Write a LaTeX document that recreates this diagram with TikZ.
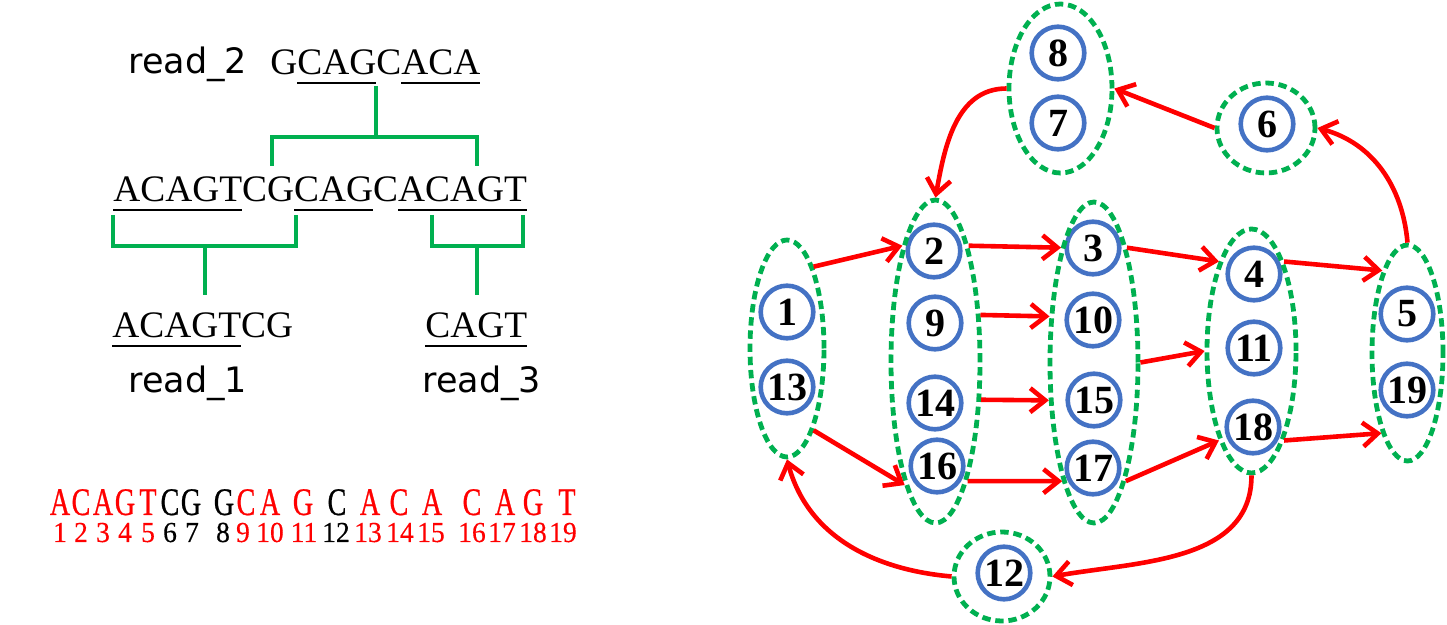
\documentclass[tikz,border=0pt]{standalone}
\usepackage{fontspec}
\setmainfont{Liberation Serif}
\newfontfamily\readfont{DejaVu Sans}
\newfontfamily\seqfont[FakeStretch=0.72,FakeBold=0.6]{Liberation Serif}
\newfontfamily\idxfont[FakeStretch=0.95,FakeBold=0.4]{Liberation Serif}
\usetikzlibrary{arrows.meta,shapes.geometric}

\definecolor{kgreen}{HTML}{00B050}
\definecolor{kblue}{HTML}{4472C4}
\definecolor{kred}{HTML}{FF0000}

\newcommand\ulseq[1]{\setbox0\hbox{#1}\rlap{\rule[-4.6pt]{\wd0}{1.2pt}}#1}

\begin{document}
\begin{tikzpicture}[x=0.5pt,y=-0.5pt,
    kmer/.style={circle, draw=kblue, line width=2.3pt, minimum size=26.3pt, inner sep=0pt, font=\fontsize{20}{20}\selectfont\bfseries},
    cluster/.style={ellipse, draw=kgreen, line width=2.4pt, dash pattern=on 4.2pt off 2.4pt, inner sep=0pt},
    link/.style={draw=kred, line width=2.3pt, -{Straight Barb[length=7.5pt,width=12pt]}},
    bracket/.style={draw=kgreen, line width=2pt},
    seqtxt/.style={font=\fontsize{18.7}{20}\selectfont, inner sep=0pt, anchor=base west},
    readlbl/.style={font=\readfont\fontsize{17.5}{20}\selectfont, inner sep=0pt, anchor=base west},
    letter/.style={font=\seqfont\fontsize{19.5}{20}\selectfont, inner sep=0pt, anchor=base},
    idx/.style={font=\idxfont\fontsize{14.5}{15}\selectfont, inner sep=0pt, anchor=base}]

    \useasboundingbox (0,0) rectangle (1447,625);

    \node[readlbl] (r2) at (128,74) {read\_2};
    \node[seqtxt] (s2) at (270,75) {G\ulseq{CAG}C\ulseq{ACA}};
    \node[seqtxt] (s0) at (113,202) {\ulseq{ACAGT}CG\ulseq{CAG}C\ulseq{ACAGT}};
    \node[seqtxt] (s1) at (112,338) {\ulseq{ACAGT}CG};
    \node[seqtxt] (s3) at (425,338) {\ulseq{CAGT}};
    \node[readlbl] (r1) at (128,393) {read\_1};
    \node[readlbl] (r3) at (422,393) {read\_3};

    \draw[bracket] (376,86) -- (376,137) (272,166) -- (272,137) -- (477,137) -- (477,166);
    \draw[bracket] (113,215) -- (113,246) -- (296,246) -- (296,215) (205,246) -- (205,295);
    \draw[bracket] (432,215) -- (432,246) -- (523,246) -- (523,215) (477,246) -- (477,295);

    \foreach \ch/\xl/\xd/\c [count=\i] in {A/60/60/kred, C/81/81/kred, A/103/103/kred, G/125/125/kred, T/148/148/kred,
        C/170/170/black, G/191/192/black, G/224/223/black, C/246/243/kred, A/270/270/kred, G/303/304/kred,
        C/337/336/black, A/370/368/kred, C/399/400/kred, A/432/431/kred, C/472/472/kred, A/505/502/kred,
        G/533/533/kred, T/567/563/kred}
    {
        \node[letter, text=\c] (l\i) at (\xl,515) {\ch};
        \node[idx, text=\c] (d\i) at (\xd,542) {\i};
    }

    \node[kmer] (n8) at (1058,53) {8};
    \node[kmer] (n7) at (1058,123) {7};
    \node[kmer] (n6) at (1267,124) {6};
    \node[kmer] (n1) at (787,312) {1};
    \node[kmer] (n13) at (787,387) {13};
    \node[kmer] (n2) at (934,251) {2};
    \node[kmer] (n9) at (935,323) {9};
    \node[kmer] (n14) at (935,403) {14};
    \node[kmer] (n16) at (937,466) {16};
    \node[kmer] (n3) at (1093,248) {3};
    \node[kmer] (n10) at (1093,320) {10};
    \node[kmer] (n15) at (1094,400) {15};
    \node[kmer] (n17) at (1093,468) {17};
    \node[kmer] (n4) at (1254,274) {4};
    \node[kmer] (n11) at (1254,348) {11};
    \node[kmer] (n18) at (1253,427) {18};
    \node[kmer] (n5) at (1407,314) {5};
    \node[kmer] (n19) at (1407,390) {19};
    \node[kmer] (n12) at (1004,573) {12};

    \node[cluster, minimum width=37pt, minimum height=108.5pt] (g1) at (787,348.5) {};
    \node[cluster, minimum width=44.5pt, minimum height=161.5pt] (g2) at (935.5,361.5) {};
    \node[cluster, minimum width=44pt, minimum height=160.5pt] (g3) at (1094,362.5) {};
    \node[cluster, minimum width=44.5pt, minimum height=122pt] (g4) at (1251.5,351) {};
    \node[cluster, minimum width=35.5pt, minimum height=108pt] (g5) at (1407.5,353) {};
    \node[cluster, minimum width=51.5pt, minimum height=84.5pt] (g78) at (1060.5,88.5) {};
    \node[cluster, minimum width=49pt, minimum height=45pt] (g6) at (1266,128) {};
    \node[cluster, minimum width=48pt, minimum height=44.5pt] (g12) at (1002,576.5) {};

    \draw[link] (g1.72) -- (g2.106);
    \draw[link] (g2.74) -- (g3.106);
    \draw[link] (g2.46) -- (g3.134);
    \draw[link] (g2.-40) -- (g3.-140);
    \draw[link] (g1.-72) -- (g2.-104);
    \draw[link] (g2.-75) -- (g3.-105);
    \draw[link] (g3.74) -- (g4.110);
    \draw[link] (g3.east) -- (g4.west);
    \draw[link] (g3.-75) -- (g4.-110);
    \draw[link] (g4.70) -- (g5.107);
    \draw[link] (g4.-70) -- (g5.-108);

    \draw[link] (g5.north) to[out=95,in=-15] (g6.east);
    \draw[link] (g6.west) -- (g78.east);
    \draw[link] (g78.west) to[out=180,in=80] (g2.north);
    \draw[link] (g4.south) to[out=-90,in=10] (g12.east);
    \draw[link] (g12.west) to[out=175,in=-75] (g1.south);

\end{tikzpicture}
\end{document}
